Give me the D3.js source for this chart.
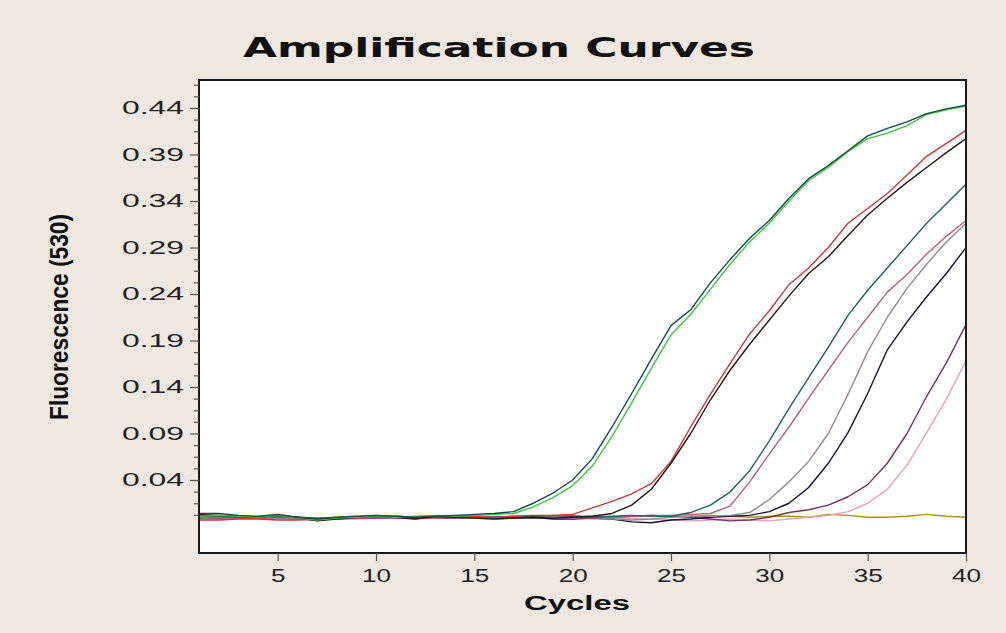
<!DOCTYPE html>
<head>
    <title>Amplification Curves</title>
    <script src='https://d3js.org/d3.v7.min.js'></script>
    <style>
        body { margin: 0; background: #eee8e0; }
        svg { display: block; }
    </style>
</head>
<body>
    <svg></svg>
</body>

<script>
    // cycle numbers and the fluorescence readings (530) for each well
    var cycles = [1,2,3,4,5,6,7,8,9,10,11,12,13,14,15,16,17,18,19,20,
                  21,22,23,24,25,26,27,28,29,30,31,32,33,34,35,36,37,38,39,40];

    var wellA1 = [0.004,0.004,0.002,0.001,0.003,0.000,-0.002,0.000,0.001,0.002,
                  0.001,0.000,0.001,0.002,0.003,0.004,0.006,0.015,0.026,0.040,
                  0.063,0.097,0.133,0.170,0.206,0.223,0.252,0.277,0.300,0.319,
                  0.343,0.364,0.378,0.394,0.410,0.418,0.425,0.434,0.439,0.443];
    var wellA2 = [0.001,0.002,0.001,0.000,0.002,-0.001,-0.003,-0.001,0.000,0.001,
                  0.000,0.001,0.002,0.001,0.002,0.003,0.004,0.011,0.021,0.034,
                  0.055,0.087,0.123,0.160,0.196,0.218,0.245,0.272,0.296,0.316,
                  0.340,0.362,0.376,0.393,0.407,0.413,0.421,0.433,0.438,0.442];
    var wellB1 = [-0.003,-0.003,-0.002,-0.002,-0.003,-0.003,-0.002,-0.001,-0.001,0.000,
                  0.000,-0.001,0.000,0.000,0.001,0.000,0.001,0.002,0.002,0.003,
                  0.010,0.017,0.025,0.036,0.060,0.097,0.132,0.165,0.197,0.222,
                  0.250,0.268,0.290,0.316,0.332,0.348,0.368,0.388,0.402,0.416];
    var wellB2 = [0.003,0.002,0.001,0.000,0.002,0.000,-0.004,-0.002,0.000,0.001,
                  0.000,-0.002,0.001,0.000,-0.001,-0.002,-0.001,0.000,-0.001,0.000,
                  0.001,0.004,0.013,0.030,0.058,0.090,0.126,0.158,0.186,0.212,
                  0.238,0.262,0.280,0.303,0.325,0.343,0.360,0.376,0.392,0.407];
    var wellC = [0.001,0.001,0.000,0.000,0.001,0.000,-0.001,-0.001,0.000,0.000,
                 0.001,0.000,0.000,0.001,0.001,0.000,0.000,0.001,0.002,0.001,
                 0.000,0.001,0.002,0.001,0.001,0.005,0.013,0.027,0.050,0.082,
                 0.117,0.150,0.183,0.217,0.244,0.268,0.292,0.316,0.337,0.358];
    var wellD = [0.000,0.000,-0.001,-0.001,0.000,-0.001,-0.002,-0.002,-0.001,0.000,
                 0.000,-0.001,-0.001,0.000,0.000,-0.001,0.000,0.000,0.001,0.000,
                 -0.001,0.000,0.001,0.002,0.002,0.003,0.004,0.012,0.038,0.068,
                 0.097,0.128,0.158,0.188,0.215,0.242,0.261,0.283,0.302,0.319];
    var wellE = [-0.001,0.000,0.000,-0.001,-0.001,-0.002,-0.002,-0.001,0.000,0.000,
                 -0.001,-0.001,0.000,0.000,-0.001,-0.001,0.000,0.000,0.000,-0.001,
                 0.000,-0.002,-0.003,-0.002,0.000,0.001,0.001,0.002,0.005,0.019,
                 0.038,0.060,0.090,0.132,0.178,0.215,0.246,0.272,0.296,0.316];
    var wellF = [0.002,0.001,0.000,0.000,0.001,-0.002,-0.003,-0.001,0.000,0.000,
                 -0.001,-0.001,0.000,0.001,0.000,-0.001,-0.001,0.000,-0.002,-0.002,
                 -0.001,-0.002,-0.005,-0.006,-0.003,-0.002,0.000,0.001,0.002,0.006,
                 0.015,0.032,0.058,0.091,0.133,0.180,0.210,0.237,0.262,0.290];
    var wellG = [-0.001,-0.001,0.000,0.000,-0.001,-0.001,-0.002,-0.002,-0.001,-0.001,
                 0.000,0.000,-0.001,-0.001,0.000,0.000,0.000,-0.001,0.000,0.001,
                 0.000,0.000,0.001,0.002,0.001,0.000,-0.002,-0.004,-0.003,0.000,
                 0.005,0.008,0.013,0.022,0.035,0.058,0.090,0.130,0.166,0.207];
    var wellH = [-0.002,-0.002,-0.001,-0.001,-0.002,-0.002,-0.003,-0.002,-0.002,-0.001,
                 -0.001,-0.002,-0.001,-0.001,-0.001,-0.002,-0.001,-0.001,0.000,-0.001,
                 -0.002,-0.002,-0.001,-0.002,-0.003,-0.004,-0.003,-0.002,-0.003,-0.004,
                 -0.002,0.000,0.002,0.006,0.015,0.030,0.056,0.091,0.127,0.168];
    var wellNTC = [0.000,0.001,0.000,0.000,0.001,0.000,-0.001,0.000,0.000,0.000,
                   0.001,0.000,0.000,0.001,0.000,0.000,0.001,0.001,0.000,0.001,
                   0.001,0.000,0.001,0.002,0.001,0.001,0.002,0.001,0.000,0.001,
                   0.001,0.000,0.003,0.002,0.000,0.000,0.001,0.003,0.001,0.000];

    // drawing order: back to front
    var wells = [wellNTC, wellH, wellG, wellF, wellE, wellD, wellC, wellB1, wellB2, wellA2, wellA1];
    var wellColors = ['#a8901e', '#eea0b0', '#74306e', '#12123c', '#9a8690', '#b8607e',
                      '#1f6262', '#c8383a', '#2a1414', '#3cc83c', '#134a4a'];

    var yMajor = [0.04, 0.09, 0.14, 0.19, 0.24, 0.29, 0.34, 0.39, 0.44];
    var yMinor = [0.0025, 0.015, 0.0275, 0.0525, 0.065, 0.0775, 0.1025, 0.115, 0.1275,
                  0.1525, 0.165, 0.1775, 0.2025, 0.215, 0.2275, 0.2525, 0.265, 0.2775,
                  0.3025, 0.315, 0.3275, 0.3525, 0.365, 0.3775, 0.4025, 0.415, 0.4275,
                  0.4525, 0.465];
    var xMajor = [5, 10, 15, 20, 25, 30, 35, 40];

    var vWidth = 1006;
    var vHeight = 633;
    var plot = { left: 199, right: 966, top: 80, bottom: 553 };

    var svg = d3.select('svg')
        .attr('width', vWidth).attr('height', vHeight);

    svg.append('rect')
        .attr('width', vWidth).attr('height', vHeight)
        .attr('fill', '#eee8e0');

    var x = d3.scaleLinear().domain([1, 40]).range([plot.left, plot.right]);
    var y = d3.scaleLinear().domain([-0.0385, 0.4701]).range([plot.bottom, plot.top]);

    // plot area
    svg.append('rect')
        .attr('x', plot.left).attr('y', plot.top)
        .attr('width', plot.right - plot.left).attr('height', plot.bottom - plot.top)
        .attr('fill', '#fff');

    // curves
    var line = d3.line()
        .x(function (d, i) { return x(cycles[i]); })
        .y(function (d) { return y(d); });

    svg.append('g')
        .selectAll('path')
        .data(wells)
        .enter().append('path')
        .attr('d', line)
        .attr('fill', 'none')
        .attr('stroke', function (d, i) { return wellColors[i]; })
        .attr('stroke-width', 1.4)
        .attr('stroke-linejoin', 'round');

    // frame
    svg.append('rect')
        .attr('x', plot.left).attr('y', plot.top)
        .attr('width', plot.right - plot.left).attr('height', plot.bottom - plot.top)
        .attr('fill', 'none')
        .attr('stroke', '#1a1a1a')
        .attr('stroke-width', 2);

    // y axis
    var yAxis = svg.append('g')
        .attr('transform', 'translate(' + plot.left + ',0)')
        .call(d3.axisLeft(y).tickValues(yMajor).tickSize(9).tickPadding(6)
            .tickFormat(d3.format('.2f')));
    svg.append('g')
        .attr('transform', 'translate(' + plot.left + ',0)')
        .call(d3.axisLeft(y).tickValues(yMinor).tickSize(5).tickFormat(''));

    // x axis
    var xAxis = svg.append('g')
        .attr('transform', 'translate(0,' + plot.bottom + ')')
        .call(d3.axisBottom(x).tickValues(xMajor).tickSize(8).tickPadding(8));

    svg.selectAll('.domain').remove();
    svg.selectAll('.tick line').attr('stroke', '#555').attr('stroke-width', 1.2);

    yAxis.selectAll('text')
        .attr('font-family', 'Liberation Sans, Arial, sans-serif')
        .attr('font-size', 18)
        .attr('fill', '#222')
        .attr('textLength', 62)
        .attr('lengthAdjust', 'spacingAndGlyphs');

    xAxis.selectAll('text')
        .attr('font-family', 'Liberation Sans, Arial, sans-serif')
        .attr('font-size', 18)
        .attr('fill', '#222')
        .attr('textLength', function (d) { return String(d).length * 14.5; })
        .attr('lengthAdjust', 'spacingAndGlyphs');

    // title and axis names
    svg.append('text')
        .attr('x', 499).attr('y', 57)
        .attr('text-anchor', 'middle')
        .attr('font-family', 'DejaVu Sans, sans-serif')
        .attr('font-weight', 900)
        .attr('font-size', 26)
        .attr('textLength', 512)
        .attr('lengthAdjust', 'spacingAndGlyphs')
        .attr('fill', '#111')
        .text('Amplification Curves');

    svg.append('text')
        .attr('x', 577).attr('y', 610)
        .attr('text-anchor', 'middle')
        .attr('font-family', 'Liberation Sans, Arial, sans-serif')
        .attr('font-weight', 'bold')
        .attr('font-size', 20)
        .attr('textLength', 106)
        .attr('lengthAdjust', 'spacingAndGlyphs')
        .attr('fill', '#111')
        .text('Cycles');

    svg.append('text')
        .attr('transform', 'translate(68,317) rotate(-90) scale(1,1.4)')
        .attr('text-anchor', 'middle')
        .attr('font-family', 'Liberation Sans, Arial, sans-serif')
        .attr('font-weight', 'bold')
        .attr('font-size', 19)
        .attr('textLength', 206)
        .attr('lengthAdjust', 'spacingAndGlyphs')
        .attr('fill', '#111')
        .text('Fluorescence (530)');
</script>
